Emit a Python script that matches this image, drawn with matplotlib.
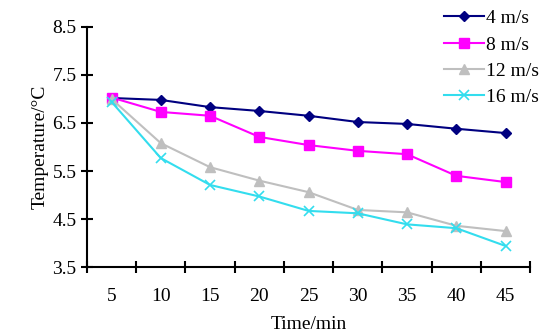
import matplotlib.pyplot as plt
import numpy as np

plt.rcParams["font.family"] = ["Liberation Serif", "DejaVu Serif"]

# data
times = ["5", "10", "15", "20", "25", "30", "35", "40", "45"]
v4 = [7.02, 6.98, 6.83, 6.75, 6.65, 6.52, 6.48, 6.38, 6.29]
v8 = [7.03, 6.73, 6.65, 6.21, 6.04, 5.92, 5.85, 5.40, 5.27]
v12 = [7.00, 6.08, 5.58, 5.30, 5.06, 4.69, 4.64, 4.36, 4.25]
v16 = [6.94, 5.77, 5.21, 4.97, 4.67, 4.62, 4.39, 4.31, 3.94]

fig = plt.figure(figsize=(5.5, 3.36), dpi=100)
ax = fig.add_axes([0.158, 0.205, 0.806, 0.715])

x = np.arange(len(times))
ax.plot(x, v4, color="#000080", marker="D", markersize=5, lw=1.5, label="4 m/s")
ax.plot(x, v8, color="#FF00FF", marker="s", markersize=7, lw=1.5, label="8 m/s")
ax.plot(x, v12, color="#BFBFBF", marker="^", markersize=7, lw=1.5, label="12 m/s")
ax.plot(x, v16, color="#33DDEE", marker="x", markersize=7, mew=1.2, lw=1.5,
        label="16 m/s")

ax.set_xlim(-0.5, len(times) - 0.5)
ax.set_ylim(3.5, 8.5)
ax.set_yticks(np.arange(3.5, 8.6, 1.0))
ax.set_yticklabels([f"{t:.1f}" for t in np.arange(3.5, 8.6, 1.0)])
ax.set_xticks(x)
ax.set_xticklabels(times)
ax.set_xticks(np.arange(-0.5, len(times), 1.0), minor=True)
ax.tick_params(axis="x", which="major", length=0, pad=15, labelsize=14)
ax.tick_params(axis="x", which="minor", direction="inout", length=9, width=1.5)
ax.tick_params(axis="y", direction="inout", length=9, width=1.5, labelsize=14, pad=3)

for s in ["top", "right"]:
    ax.spines[s].set_visible(False)
for s in ["left", "bottom"]:
    ax.spines[s].set_linewidth(1.5)

ax.set_xlabel("Time/min", fontsize=14, labelpad=8)
ax.set_ylabel("Temperature/\u00b0C", fontsize=14, labelpad=3)

ax.legend(loc="upper right", bbox_to_anchor=(1.06, 1.145), frameon=False,
          fontsize=14, handlelength=2.1, handletextpad=0.1, labelspacing=0.45)

fig.savefig("out.png", dpi=100)
